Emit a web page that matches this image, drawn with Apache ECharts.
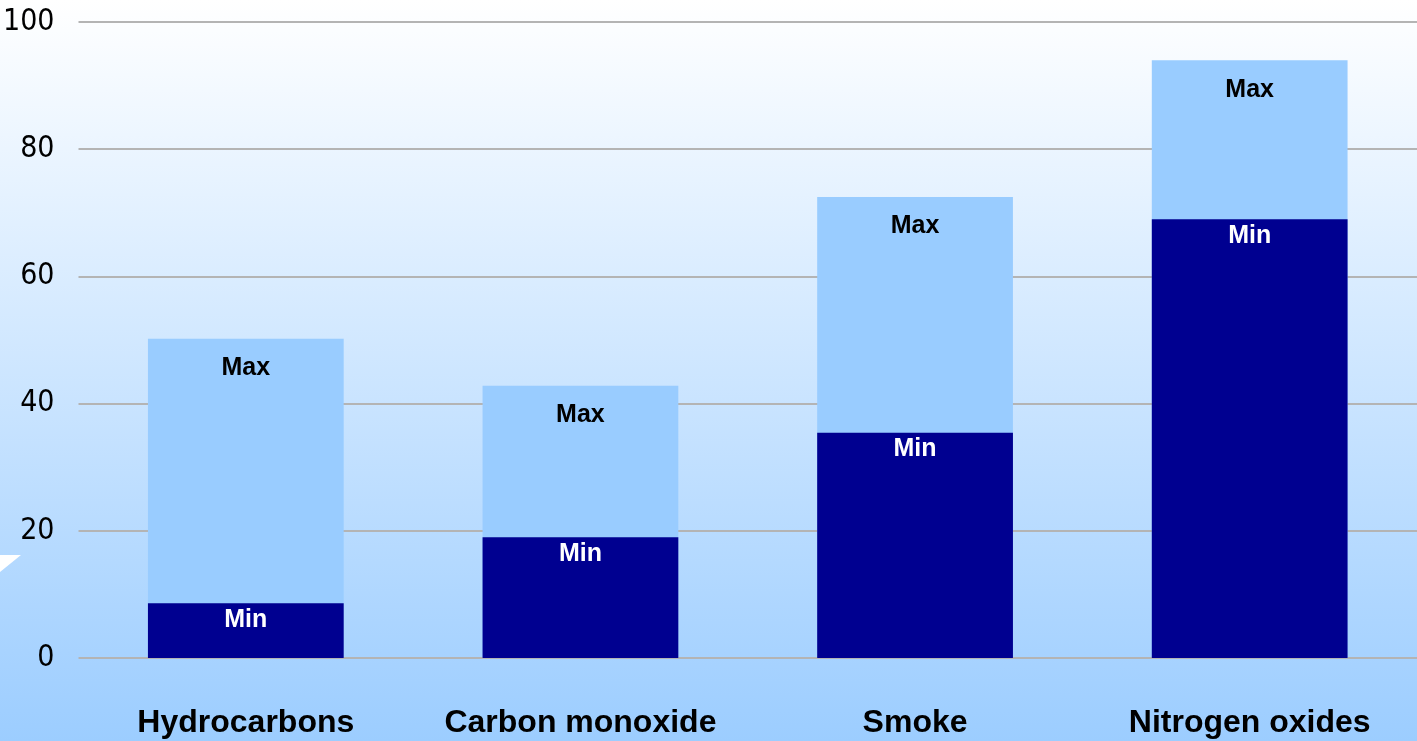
<!DOCTYPE html>
<html>
<head>
<meta charset="utf-8">
<script src="https://cdn.jsdelivr.net/npm/echarts@6/dist/echarts.min.js"></script>
<style>
  html, body { margin: 0; padding: 0; }
  #chart { width: 1417px; height: 741px; }
</style>
</head>
<body>
<div id="chart"></div>
<script>
// pollutant categories and the min / max values
const categories = ['Hydrocarbons', 'Carbon monoxide', 'Smoke', 'Nitrogen oxides']
const minValues = [8.6, 19.0, 35.4, 69.0]
const maxValues = [50.2, 42.8, 72.5, 94.0]
const yTicks = [0, 20, 40, 60, 80, 100]

const boldFont = '"Liberation Sans", Arial, sans-serif'

const chart = echarts.init(document.getElementById('chart'))

const option = {
  backgroundColor: new echarts.graphic.LinearGradient(0, 0, 0, 1, [
    { offset: 0, color: '#ffffff' },
    { offset: 1, color: '#9ccdff' }
  ]),
  animation: false,
  grid: {
    left: 78,
    right: 0,
    top: 22,
    bottom: 83
  },
  // small white notch on the left edge
  graphic: [{
    type: 'polygon',
    shape: { points: [[0, 555], [21, 555], [0, 572]] },
    style: { fill: '#ffffff' }
  }],
  xAxis: {
    type: 'category',
    data: categories,
    axisLine: { show: false },
    axisTick: { show: false },
    axisLabel: {
      interval: 0,
      hideOverlap: false,
      color: '#000',
      fontFamily: boldFont,
      fontWeight: 'bold',
      fontSize: 32,
      margin: 49
    }
  },
  yAxis: {
    type: 'value',
    min: yTicks[0],
    max: yTicks[yTicks.length - 1],
    interval: 20,
    axisLine: { show: false },
    axisTick: { show: false },
    axisLabel: {
      color: '#000',
      fontFamily: '"Liberation Sans Narrow", "DejaVu Sans Condensed", sans-serif',
      fontSize: 30,
      margin: 24
    },
    splitLine: {
      lineStyle: { color: '#b4b4b4', width: 2 }
    }
  },
  series: [
    {
      name: 'Max',
      type: 'bar',
      data: maxValues,
      barWidth: '58.5%',
      itemStyle: { color: '#99ccff' },
      label: {
        show: true,
        position: 'insideTop',
        distance: 17,
        formatter: 'Max',
        color: '#000',
        fontFamily: boldFont,
        fontWeight: 'bold',
        fontSize: 25
      }
    },
    {
      name: 'Min',
      type: 'bar',
      data: minValues,
      barWidth: '58.5%',
      barGap: '-100%',
      itemStyle: { color: '#000090' },
      label: {
        show: true,
        position: 'insideTop',
        distance: 4,
        formatter: 'Min',
        color: '#fff',
        fontFamily: boldFont,
        fontWeight: 'bold',
        fontSize: 25
      }
    }
  ]
}

chart.setOption(option)
</script>
</body>
</html>
